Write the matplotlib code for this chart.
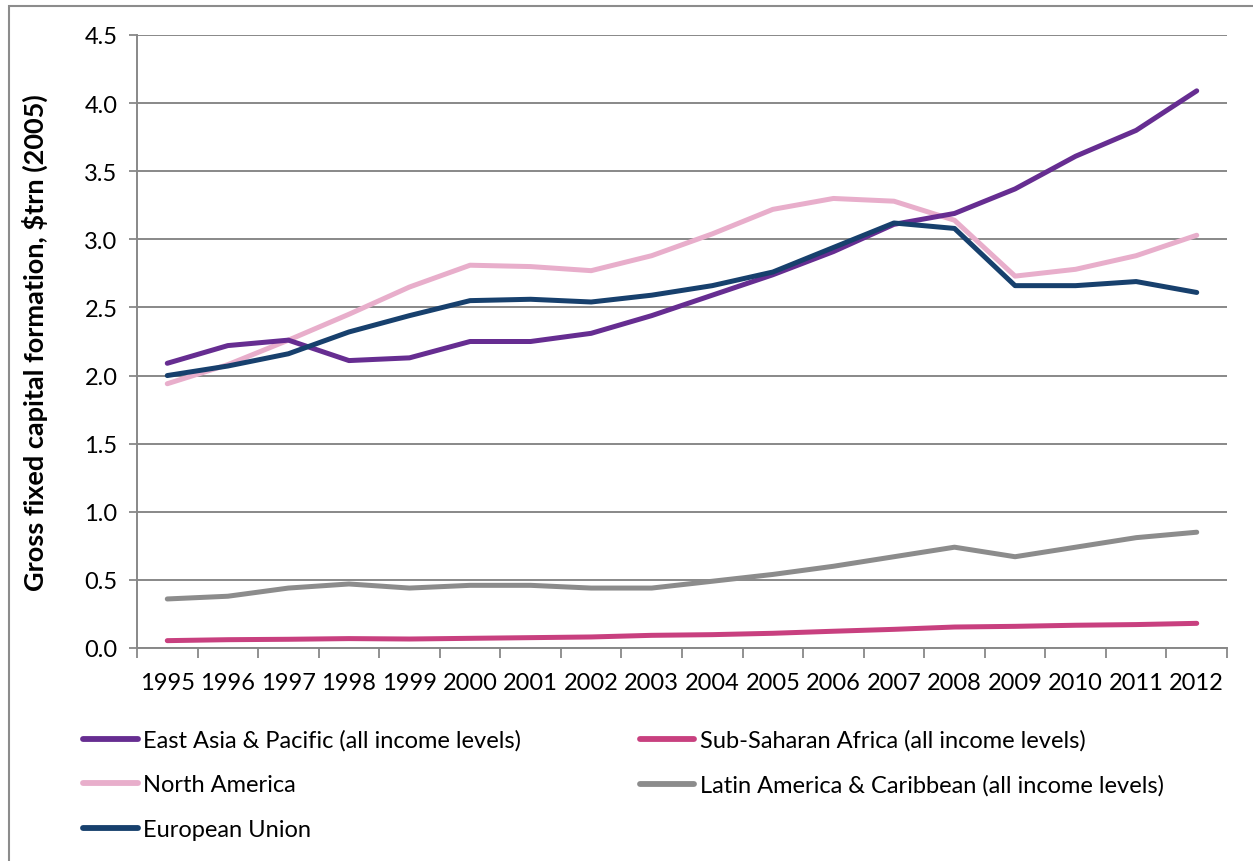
import matplotlib
matplotlib.use("Agg")
import matplotlib.pyplot as plt
from matplotlib.patches import Rectangle
from matplotlib import font_manager

years = [str(y) for y in range(1995, 2013)]
east_asia = [2.09, 2.22, 2.26, 2.11, 2.13, 2.25, 2.25, 2.31, 2.44, 2.59, 2.74, 2.91, 3.11, 3.19, 3.37, 3.61, 3.80, 4.09]
north_america = [1.94, 2.08, 2.26, 2.45, 2.65, 2.81, 2.80, 2.77, 2.88, 3.04, 3.22, 3.30, 3.28, 3.14, 2.73, 2.78, 2.88, 3.03]
european_union = [2.00, 2.07, 2.16, 2.32, 2.44, 2.55, 2.56, 2.54, 2.59, 2.66, 2.76, 2.94, 3.12, 3.08, 2.66, 2.66, 2.69, 2.61]
sub_saharan = [0.054, 0.061, 0.064, 0.069, 0.066, 0.071, 0.076, 0.081, 0.093, 0.098, 0.108, 0.123, 0.137, 0.154, 0.159, 0.167, 0.172, 0.181]
latin_america = [0.36, 0.38, 0.44, 0.47, 0.44, 0.46, 0.46, 0.44, 0.44, 0.49, 0.54, 0.60, 0.67, 0.74, 0.67, 0.74, 0.81, 0.85]

series = [
    ("East Asia & Pacific (all income levels)", east_asia, "#662D91"),
    ("North America", north_america, "#E8AECB"),
    ("European Union", european_union, "#17406D"),
    ("Sub-Saharan Africa (all income levels)", sub_saharan, "#C8407F"),
    ("Latin America & Caribbean (all income levels)", latin_america, "#8C8C8C"),
]
y_ticks = [0.0, 0.5, 1.0, 1.5, 2.0, 2.5, 3.0, 3.5, 4.0, 4.5]

plt.rcParams['font.family'] = ['Lato', 'DejaVu Sans']

# choose a family whose bold face really exists
bold_family = 'DejaVu Sans'
for fam in ['Lato', 'Open Sans', 'Noto Sans', 'Roboto', 'Liberation Sans']:
    try:
        p = font_manager.findfont(font_manager.FontProperties(family=fam, weight='bold'),
                                  fallback_to_default=False)
        if 'bold' in p.lower():
            bold_family = fam
            break
    except Exception:
        pass

fig = plt.figure(figsize=(12.53, 8.62), dpi=100)
ax = fig.add_axes([137/1253, 1 - 649/862, (1227 - 137)/1253, (649 - 36)/862])

x = list(range(len(years)))
order_draw = [4, 3, 1, 0, 2]
handles = {}
for i in order_draw:
    name, vals, col = series[i]
    ln, = ax.plot(x, vals, color=col, lw=3.6, solid_capstyle='round', solid_joinstyle='round', label=name, zorder=3)
    handles[i] = ln

ax.set_xlim(-0.5, len(years) - 0.5)
ax.set_ylim(0, 4.5)
ax.set_yticks(y_ticks)
ax.set_yticklabels([f"{v:.1f}" for v in y_ticks], fontsize=17)
ax.set_xticks(x)
ax.set_xticklabels(years, fontsize=17)
ax.set_xticks([i - 0.5 for i in range(len(years) + 1)], minor=True)
ax.tick_params(axis='x', which='major', length=0, pad=17)
ax.tick_params(axis='x', which='minor', length=7, color='#888888', width=1.3)
ax.tick_params(axis='y', length=6, color='#888888', width=1.3, pad=8)
ax.yaxis.grid(True, color='#888888', lw=1.4, zorder=0)
ax.set_axisbelow(True)
for s in ['top', 'right']:
    ax.spines[s].set_visible(False)
for s in ['left', 'bottom']:
    ax.spines[s].set_color('#888888')
    ax.spines[s].set_linewidth(1.4)

ax.set_ylabel("Gross fixed capital formation, $trn (2005)", fontsize=19.5, fontweight='bold',
              family=[bold_family, 'DejaVu Sans'])
ax.yaxis.set_label_coords(-(137 - 48) / 1090, 0.5)

leg = fig.legend([handles[i] for i in range(5)], [series[i][0] for i in range(5)],
                 loc='upper left', bbox_to_anchor=(62/1253, 1 - 709/862), ncol=2,
                 frameon=False, fontsize=17, handlelength=2.3, handletextpad=0.25,
                 labelspacing=1.0, columnspacing=5.0)
for h in leg.legend_handles:
    h.set_linewidth(4.2)

fig.patches.append(Rectangle((9/1253, -0.1), 1.2, 1.1 - 7/862, transform=fig.transFigure,
                             fill=False, edgecolor='#8C8C8C', lw=1.5))

fig.savefig("out.png", dpi=100)
